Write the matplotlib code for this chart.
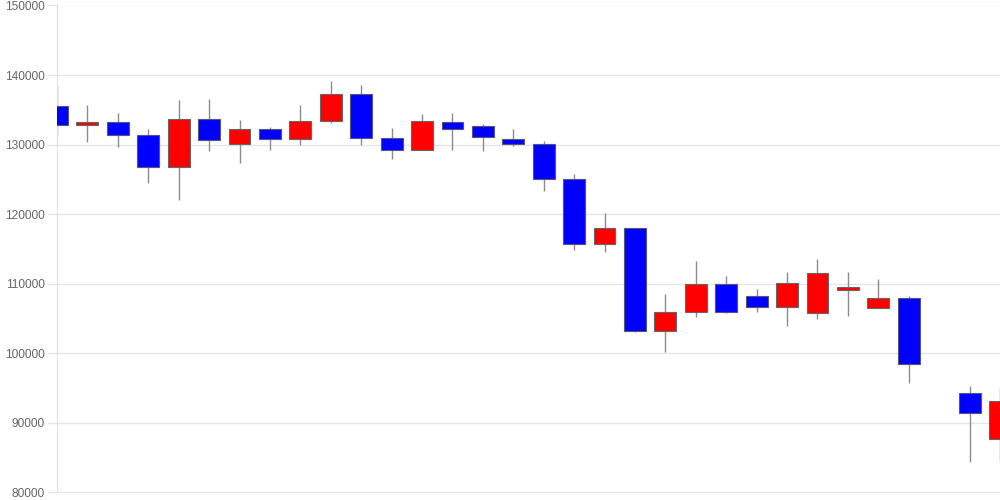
import numpy as np
import matplotlib
matplotlib.use("Agg")
import matplotlib.pyplot as plt

plt.rcParams['font.family'] = ['Liberation Sans', 'DejaVu Sans']

# daily prices, slot 29 has no trading
opens = [135550, 132850, 133200, 131450, 126800, 133750, 130100, 132300,
         130800, 133400, 137250, 131000, 129300, 133250, 132750, 130800,
         130150, 125000, 115650, 117950, 103200, 105950, 109950, 108250,
         106650, 105850, 109150, 106500, 107950, np.nan, 94300, 87700]
highs = [138500, 135650, 134500, 132200, 136400, 136600, 133500, 132600,
         135650, 139100, 138550, 132350, 134350, 134500, 132950, 132200,
         130500, 125750, 120150, 117950, 108550, 113300, 111150, 109250,
         111650, 113500, 111700, 110700, 108300, np.nan, 95250, 95050]
lows = [131350, 130400, 129700, 124500, 122000, 129100, 127300, 129250,
        129900, 133150, 130000, 128000, 129300, 129300, 129150, 129800,
        123300, 114900, 114600, 103050, 100250, 105250, 105800, 106000,
        104000, 105000, 105300, 106500, 95750, np.nan, 84400, 84400]
closes = [132850, 133200, 131450, 126800, 133750, 130600, 132300, 130800,
          133450, 137250, 131000, 129300, 133400, 132200, 131150, 130100,
          125000, 115650, 117950, 103200, 105950, 109950, 106000, 106650,
          110050, 111550, 109500, 107950, 98400, np.nan, 91400, 93150]
yticks = [80000, 90000, 100000, 110000, 120000, 130000, 140000, 150000]

o = np.array(opens, dtype=float)
h = np.array(highs, dtype=float)
l = np.array(lows, dtype=float)
c = np.array(closes, dtype=float)
x = np.arange(len(o))
ok = ~np.isnan(o)

fig = plt.figure(figsize=(10, 5), dpi=100)
ax = fig.add_axes([0.057, 0.015, 0.943, 0.974])

ax.set_ylim(80000, 150000)
ax.set_xlim(0, len(o) - 1)
ax.set_yticks(yticks)
ax.set_yticklabels([str(v) for v in yticks])
ax.set_xticks([])
ax.grid(True, axis='y', color='#e6e6e6', linewidth=1)
ax.set_axisbelow(True)

for s in ['top', 'right', 'bottom']:
    ax.spines[s].set_visible(False)
ax.spines['left'].set_color('#e0e0e0')
ax.tick_params(axis='y', length=7.5, color='#e6e6e6', width=1,
               labelsize=8.6, labelcolor='#666666', pad=1.5)

# wicks
ax.vlines(x[ok], l[ok], h[ok], color='#8c8c8c', linewidth=1, zorder=2)

# bodies
up = ok & (c >= o)
down = ok & (c < o)
ax.bar(x[up], c[up] - o[up], bottom=o[up], width=0.72, color='#ff0000',
       edgecolor='#666666', linewidth=0.8, zorder=3)
ax.bar(x[down], o[down] - c[down], bottom=c[down], width=0.72, color='#0000ff',
       edgecolor='#555577', linewidth=0.8, zorder=3)

fig.savefig('out.png', dpi=100)
